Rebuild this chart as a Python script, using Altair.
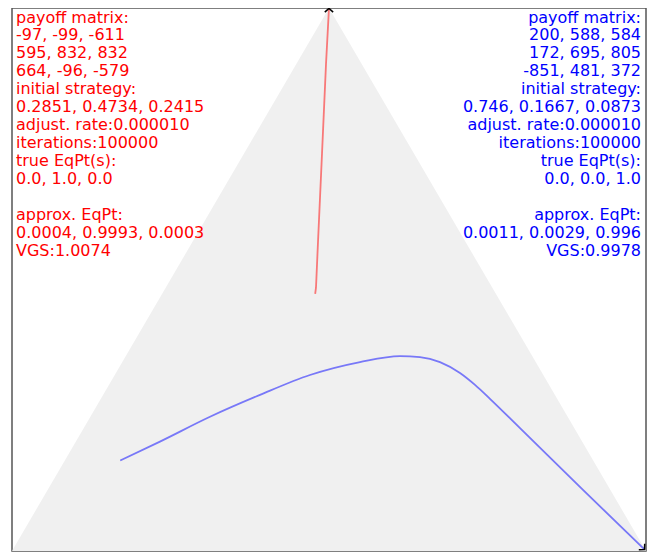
import altair as alt
import pandas as pd

# Simplex plane coordinates (equilateral triangle, side 1)
tri_x = [0.0, 0.5, 1.0]
tri_y = [0.0, 0.866, 0.0]

# Red trajectory (start -> approx. EqPt near top vertex)
red_x = [0.4782, 0.4795, 0.4826, 0.4890, 0.4953, 0.49995]
red_y = [0.4100, 0.4203, 0.4917, 0.6344, 0.7772, 0.8654]

# Blue trajectory (start -> approx. EqPt near bottom-right vertex)
blue_x = [0.1707, 0.2334, 0.3123, 0.3912, 0.4700, 0.5489, 0.6120, 0.6435,
          0.6751, 0.7066, 0.7303, 0.7539, 0.8013, 0.9006, 0.9975]
blue_y = [0.1444, 0.1745, 0.2141, 0.2490, 0.2807, 0.3013, 0.3109, 0.3093,
          0.3013, 0.2839, 0.2649, 0.2427, 0.1959, 0.0975, 0.0025]

left_top = [
    "payoff matrix:",
    "-97, -99, -611",
    "595, 832, 832",
    "664, -96, -579",
    "initial strategy:",
    "0.2851, 0.4734, 0.2415",
    "adjust. rate:0.000010",
    "iterations:100000",
    "true EqPt(s):",
    "0.0, 1.0, 0.0",
]
left_bottom = [
    "approx. EqPt:",
    "0.0004, 0.9993, 0.0003",
    "VGS:1.0074",
]
right_top = [
    "payoff matrix:",
    "200, 588, 584",
    "172, 695, 805",
    "-851, 481, 372",
    "initial strategy:",
    "0.746, 0.1667, 0.0873",
    "adjust. rate:0.000010",
    "iterations:100000",
    "true EqPt(s):",
    "0.0, 0.0, 1.0",
]
right_bottom = [
    "approx. EqPt:",
    "0.0011, 0.0029, 0.996",
    "VGS:0.9978",
]

W, H = 634, 543
LH = 17.95
Y0 = 14.5
xs = alt.Scale(domain=[0, 1], nice=False, zero=False)
ys = alt.Scale(domain=[0, 0.866], nice=False, zero=False)

tri_df = pd.DataFrame({"x": tri_x, "y": tri_y})
red_df = pd.DataFrame({"x": red_x, "y": red_y, "i": range(len(red_x))})
blue_df = pd.DataFrame({"x": blue_x, "y": blue_y, "i": range(len(blue_x))})

X = alt.X("x:Q", scale=xs, axis=None)
Y = alt.Y("y:Q", scale=ys, axis=None)

triangle = alt.Chart(tri_df).mark_area(color="#f0f0f0", interpolate="linear").encode(x=X, y=Y)

red = alt.Chart(red_df).mark_line(color="#ff0000", opacity=0.5, strokeWidth=1.8).encode(
    x=X, y=Y, order="i:Q"
)
blue = alt.Chart(blue_df).mark_line(color="#0000ff", opacity=0.5, strokeWidth=1.8,
                                     interpolate="monotone").encode(x=X, y=Y, order="i:Q")

caret = "M-1,0.9L0,0L1,0.9"
red_end = alt.Chart(red_df.tail(1)).mark_point(
    shape=caret, filled=False, color="black", strokeWidth=1.5, size=70, opacity=1
).encode(x=X, y=Y, angle=alt.value(0))
blue_end = alt.Chart(blue_df.tail(1)).mark_point(
    shape=caret, filled=False, color="black", strokeWidth=1.5, size=70, opacity=1
).encode(x=X, y=Y, angle=alt.value(135))


def text_block(lines, align, xpos, ypos, color):
    return alt.Chart(pd.DataFrame({"t": ["\n".join(lines)]})).mark_text(
        align=align, baseline="alphabetic", font="DejaVu Sans", fontSize=16,
        lineHeight=LH, lineBreak="\n", color=color
    ).encode(text="t:N", x=alt.value(xpos), y=alt.value(ypos))


texts = [
    text_block(left_top, "left", 4, Y0, "#ff0000"),
    text_block(left_bottom, "left", 4, Y0 + 11 * LH, "#ff0000"),
    text_block(right_top, "right", 629, Y0, "#0000ff"),
    text_block(right_bottom, "right", 629, Y0 + 11 * LH, "#0000ff"),
]

chart = alt.layer(triangle, red, blue, red_end, blue_end, *texts).properties(
    width=W, height=H,
    autosize=alt.AutoSizeParams(type="none"),
    padding={"left": 4, "top": 0, "right": 6, "bottom": 2},
).configure_view(stroke="#555555", strokeWidth=1.5)

chart.save("out.html", embed_options={"renderer": "svg", "actions": False})
